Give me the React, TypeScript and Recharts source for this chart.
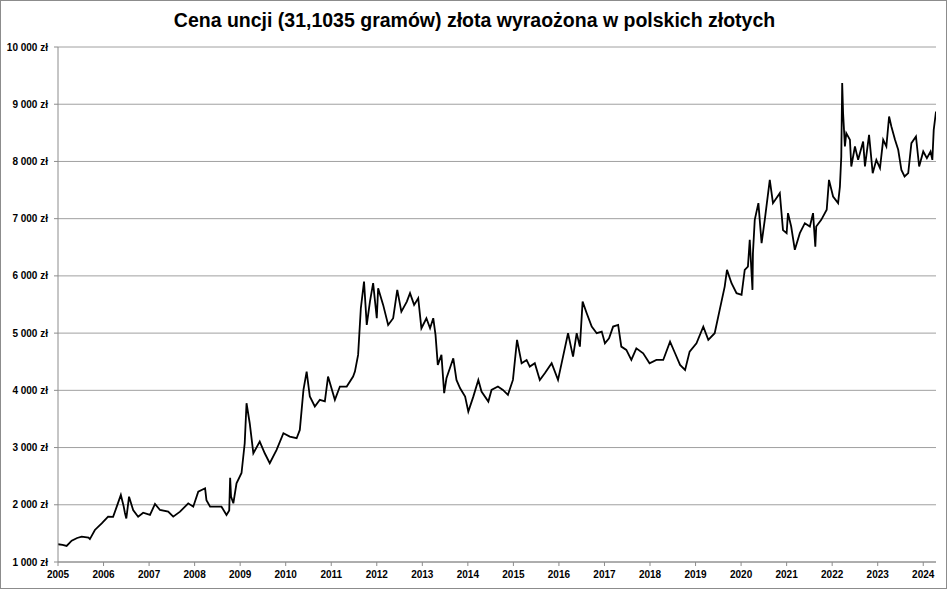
import React from 'react';
import { LineChart, Line, XAxis, YAxis, CartesianGrid } from 'recharts';

// decimal year of each reading and gold price per ounce in PLN
const years = [
  2005.0, 2005.1, 2005.19, 2005.3, 2005.42, 2005.52, 2005.67, 2005.7, 2005.81, 2005.96,
  2006.1, 2006.21, 2006.29, 2006.38, 2006.44, 2006.47, 2006.5, 2006.56, 2006.65, 2006.76, 2006.87,
  2007.02, 2007.13, 2007.24, 2007.42, 2007.53, 2007.68, 2007.86, 2007.97,
  2008.08, 2008.23, 2008.26, 2008.34, 2008.45, 2008.59, 2008.7, 2008.76, 2008.78, 2008.8, 2008.85, 2008.92,
  2009.03, 2009.1, 2009.14, 2009.21, 2009.29, 2009.43, 2009.54, 2009.65, 2009.8, 2009.95,
  2010.09, 2010.24, 2010.31, 2010.39, 2010.46, 2010.53, 2010.64, 2010.75, 2010.86, 2010.93,
  2011.08, 2011.19, 2011.34, 2011.48, 2011.52, 2011.59, 2011.65, 2011.72, 2011.78, 2011.85, 2011.92,
  2012.0, 2012.03, 2012.14, 2012.25, 2012.36, 2012.45, 2012.54, 2012.66, 2012.73, 2012.82, 2012.91, 2012.98,
  2013.09, 2013.17, 2013.24, 2013.29, 2013.34, 2013.42, 2013.48, 2013.53, 2013.68, 2013.75, 2013.83, 2013.94,
  2014.01, 2014.12, 2014.23, 2014.3, 2014.45, 2014.52, 2014.66, 2014.77, 2014.88, 2014.99,
  2015.08, 2015.18, 2015.29, 2015.36, 2015.47, 2015.58, 2015.69, 2015.84, 2015.98,
  2016.09, 2016.2, 2016.31, 2016.39, 2016.46, 2016.52, 2016.61, 2016.72, 2016.83, 2016.94,
  2017.01, 2017.1, 2017.19, 2017.3, 2017.37, 2017.48, 2017.59, 2017.7, 2017.85, 2017.99,
  2018.14, 2018.29, 2018.44, 2018.55, 2018.66, 2018.77, 2018.87,
  2019.02, 2019.17, 2019.28, 2019.42, 2019.53, 2019.64, 2019.69, 2019.79, 2019.9,
  2020.01, 2020.08, 2020.15, 2020.19, 2020.25, 2020.26, 2020.3, 2020.38, 2020.45, 2020.52, 2020.63, 2020.7, 2020.85, 2020.92,
  2021.0, 2021.03, 2021.1, 2021.18, 2021.29, 2021.4, 2021.51, 2021.58, 2021.63, 2021.65, 2021.76, 2021.88, 2021.93,
  2022.02, 2022.13, 2022.17, 2022.2, 2022.22, 2022.24, 2022.28, 2022.31, 2022.39, 2022.42, 2022.5, 2022.57,
  2022.68, 2022.72, 2022.81, 2022.89, 2022.97,
  2023.05, 2023.12, 2023.19, 2023.25, 2023.3, 2023.38, 2023.45, 2023.52, 2023.59, 2023.67, 2023.74, 2023.84, 2023.91,
  2024.0, 2024.08, 2024.16, 2024.2, 2024.23, 2024.28,
];

const prices = [
  1310, 1300, 1280, 1372, 1420, 1443, 1425, 1400, 1560, 1676,
  1792, 1790, 1967, 2171, 1980, 1857, 1760, 2142, 1909, 1792, 1862,
  1822, 2014, 1909, 1880, 1792, 1880, 2026, 1967,
  2230, 2288, 2080, 1967, 1967, 1967, 1822, 1900, 2470, 2142, 2026, 2376,
  2555, 3075, 3774, 3425, 2900, 3104, 2900, 2726, 2958, 3250,
  3191, 3163, 3308, 4007, 4327, 3892, 3717, 3834, 3808, 4240,
  3834, 4066, 4066, 4240, 4327, 4619, 5435, 5900, 5143, 5551, 5872,
  5260, 5785, 5493, 5143, 5260, 5755, 5376, 5551, 5697, 5493, 5610, 5085,
  5260, 5085, 5260, 4968, 4444, 4619, 3950, 4211, 4560, 4182, 4036, 3890,
  3628, 3890, 4182, 3978, 3803, 4007, 4066, 4007, 3920, 4182,
  4881, 4473, 4531, 4415, 4473, 4182, 4298, 4473, 4182,
  4590, 4998, 4590, 4998, 4764, 5551, 5347, 5114, 4998, 5027,
  4823, 4910, 5114, 5143, 4764, 4706, 4531, 4735, 4648, 4473,
  4531, 4531, 4852, 4648, 4444, 4357, 4677,
  4823, 5114, 4881, 4998, 5406, 5813, 6105, 5872, 5697,
  5668, 6105, 6163, 6629, 5755, 6397, 6979, 7271, 6572, 6979, 7678, 7271, 7446, 6800,
  6746, 7096, 6863, 6455, 6746, 6921, 6863, 7096, 6512, 6863, 6979, 7155, 7678,
  7387, 7271, 7561, 8085, 9370, 8843, 8261, 8494, 8378, 7912, 8261, 8028,
  8349, 7912, 8465, 7795, 8028,
  7883, 8378, 8261, 8785, 8610, 8378, 8203, 7853, 7737, 7795, 8320, 8436, 7912,
  8174, 8058, 8174, 8028, 8552, 8872,
];

const yearTicks = [
  2005, 2006, 2007, 2008, 2009, 2010, 2011, 2012, 2013, 2014,
  2015, 2016, 2017, 2018, 2019, 2020, 2021, 2022, 2023, 2024,
];
const priceTicks = [1000, 2000, 3000, 4000, 5000, 6000, 7000, 8000, 9000, 10000];

const data = years.map((t, i) => ({ t, p: prices[i] }));

const fmtZl = (v: number) => String(v).replace(/\B(?=(\d{3})+(?!\d))/g, ' ') + ' zł';

const FONT = 'Liberation Sans, Arial, sans-serif';

const YTick = (props: any) => {
  const { x, y, payload } = props;
  return (
    <text x={x} y={y} dy="0.355em" textAnchor="end" fontFamily={FONT} fontSize={10} fontWeight={700} fill="#000">
      {fmtZl(payload.value)}
    </text>
  );
};

const XTick = (props: any) => {
  const { x, y, payload } = props;
  return (
    <text x={x} y={y} dy="0.71em" textAnchor="middle" fontFamily={FONT} fontSize={10} fontWeight={700} fill="#000">
      {payload.value}
    </text>
  );
};

export default function App() {
  return (
    <div
      style={{
        position: 'absolute',
        left: 0,
        top: 0,
        width: 947,
        height: 589,
        border: '1px solid #8c8c8c',
        boxSizing: 'border-box',
        background: '#fff',
      }}
    >
      <div
        style={{
          position: 'absolute',
          left: 0,
          top: 8,
          width: 947,
          textAlign: 'center',
          fontFamily: FONT,
          fontWeight: 700,
          fontSize: 19.5,
          color: '#000',
        }}
      >
        Cena uncji (31,1035 gramów) złota wyraożona w polskich złotych
      </div>
      <div style={{ position: 'absolute', left: -1, top: -1 }}>
        <LineChart width={948} height={590} data={data} margin={{ top: 47, right: 12, left: 0, bottom: 0 }}>
          <CartesianGrid horizontal vertical={false} stroke="#a0a0a0" />
          <XAxis
            type="number"
            dataKey="t"
            domain={[2005, 2024.28]}
            ticks={yearTicks}
            allowDataOverflow
            height={28}
            tickSize={4}
            tickMargin={5}
            stroke="#8c8c8c"
            tick={XTick}
          />
          <YAxis
            type="number"
            domain={[1000, 10000]}
            ticks={priceTicks}
            width={58}
            tickSize={4}
            tickMargin={6}
            stroke="#8c8c8c"
            tick={YTick}
          />
          <Line
            type="linear"
            dataKey="p"
            stroke="#000"
            strokeWidth={1.8}
            dot={false}
            activeDot={false}
            isAnimationActive={false}
          />
        </LineChart>
      </div>
    </div>
  );
}
